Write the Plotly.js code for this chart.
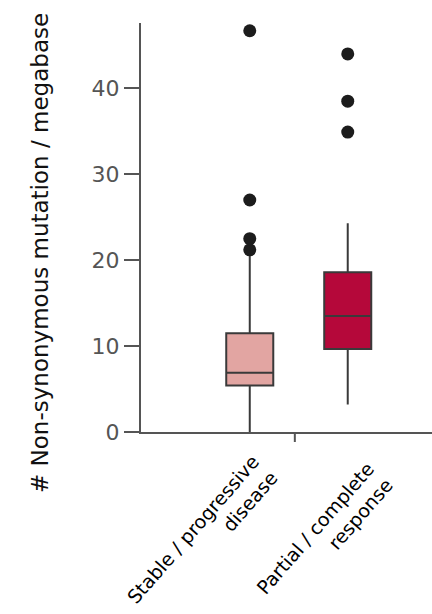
<!DOCTYPE html>
<html>
<head>
<meta charset="utf-8">
<script src="https://cdn.plot.ly/plotly-3.0.1.min.js"></script>
<style>html,body{margin:0;padding:0;background:#fff;}#chart{width:432px;height:614px;}</style>
</head>
<body>
<div id="chart"></div>
<script>
var categories = ["Stable / progressive<br>disease", "Partial / complete<br>response"];
var q1 = [5.4, 9.65];
var median = [6.9, 13.5];
var q3 = [11.5, 18.6];
var lowerFence = [0.0, 3.2];
var upperFence = [20.6, 24.3];
var outliersStable = [21.2, 22.5, 27.0, 46.7];
var outliersResponse = [34.9, 38.5, 44.0];
var fillColors = ["#E2A5A2", "#B5083A"];
var yTicks = [0, 10, 20, 30, 40];
var labelShiftX = [35, 52];
var labelShiftY = [-16, -23];

var traces = [];
for (var i = 0; i < categories.length; i++) {
  traces.push({
    type: 'box',
    name: categories[i],
    x: [categories[i]],
    q1: [q1[i]],
    median: [median[i]],
    q3: [q3[i]],
    lowerfence: [lowerFence[i]],
    upperfence: [upperFence[i]],
    boxpoints: false,
    width: 0.48,
    whiskerwidth: 0,
    fillcolor: fillColors[i],
    line: {color: '#3a3a3a', width: 2},
    showlegend: false,
    hoverinfo: 'skip'
  });
}
var outX = [], outY = [];
outliersStable.forEach(function(v){ outX.push(categories[0]); outY.push(v); });
outliersResponse.forEach(function(v){ outX.push(categories[1]); outY.push(v); });
traces.push({
  type: 'scatter', mode: 'markers', x: outX, y: outY,
  marker: {size: 13, color: '#1c1c1c'}, showlegend: false, hoverinfo: 'skip'
});

var annotations = [{
  text: '# Non-synonymous mutation / megabase',
  xref: 'paper', yref: 'paper',
  x: -0.347, y: 0.4377,
  xanchor: 'center', yanchor: 'middle',
  textangle: -90, showarrow: false,
  font: {family: 'DejaVu Sans', size: 23, color: '#111'}
}];
categories.forEach(function(c, i){
  annotations.push({
    text: c, xref: 'x', yref: 'paper', x: c, y: 0,
    xshift: labelShiftX[i], yshift: labelShiftY[i],
    xanchor: 'right', yanchor: 'top', align: 'right',
    textangle: -49, showarrow: false,
    font: {family: 'DejaVu Sans', size: 19, color: '#000'}
  });
});

var layout = {
  width: 432, height: 614,
  margin: {l: 141, r: 0, t: 23, b: 182},
  paper_bgcolor: '#fff', plot_bgcolor: '#fff',
  showlegend: false,
  boxmode: 'overlay',
  font: {family: 'DejaVu Sans', color: '#000'},
  xaxis: {
    type: 'category',
    categoryorder: 'array', categoryarray: categories,
    range: [-1.11, 1.86],
    showline: true, linecolor: '#555', linewidth: 2,
    ticks: '', showgrid: false, zeroline: false,
    showticklabels: false
  },
  yaxis: {
    range: [0, 47.6],
    tickvals: yTicks,
    ticks: 'outside', ticklen: 15, tickwidth: 2, tickcolor: '#555',
    showline: true, linecolor: '#555', linewidth: 2,
    showgrid: false, zeroline: false,
    tickfont: {family: 'DejaVu Sans', size: 22, color: '#555'}
  },
  shapes: [{
    type: 'line', xref: 'x', yref: 'paper',
    x0: 0.46, x1: 0.46, y0: 0, y1: -10/409,
    line: {color: '#555', width: 2}
  }],
  annotations: annotations
};
Plotly.newPlot('chart', traces, layout, {staticPlot: true, displayModeBar: false});
</script>
</body>
</html>
